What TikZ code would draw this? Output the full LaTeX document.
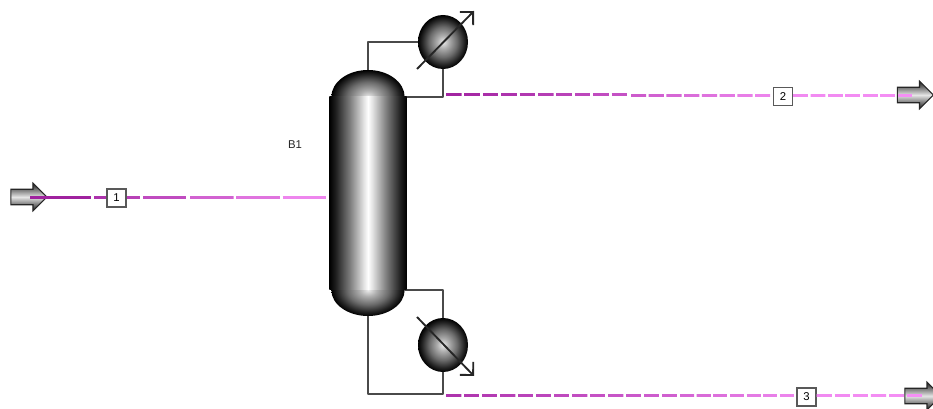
\documentclass[tikz,border=0pt]{standalone}
\usepackage{fontspec}
\setmainfont{Liberation Sans}
\usetikzlibrary{shapes.geometric,shapes.arrows,arrows.meta,calc}
\definecolor{pdark}{HTML}{A0229F}
\definecolor{plight}{HTML}{F58FF5}
\definecolor{pipe}{HTML}{4A4A4A}
\pgfdeclareradialshading{hxball}{\pgfpoint{0bp}{0bp}}{color(0bp)=(white!92!black); color(6bp)=(black!32); color(14bp)=(black!58); color(21bp)=(black!86); color(25bp)=(black); color(100bp)=(black)}
\pgfdeclarehorizontalshading{hxcol}{100bp}{color(0bp)=(black); color(25bp)=(black); color(29bp)=(black!88); color(38bp)=(black!52); color(47bp)=(white!88!black); color(50bp)=(white); color(53bp)=(white!88!black); color(62bp)=(black!52); color(71bp)=(black!88); color(75bp)=(black); color(100bp)=(black)}
\tikzset{
  x=0.75pt,y=-0.75pt,
  pipeline/.style={draw=pipe,line width=1.5pt,line join=round},
  ball/.style={ellipse,inner sep=0pt,minimum width=37.5pt,minimum height=40.5pt,shade,shading=hxball},
  cross/.style={draw=black!85,line width=1.4pt,-{Straight Barb[length=7pt,width=14pt,line width=1.4pt]}},
  port/.style={single arrow,inner sep=0pt,draw=black!85,line width=.8pt,minimum height=27pt,text height=5.4pt,text depth=5.4pt,text width=0pt,single arrow head extend=4.6pt,
    shade,top color=black!90,bottom color=black!90,middle color=white!90!black},
  tag/.style={draw=black!65,fill=white,line width=.9pt,inner sep=0pt,minimum width=14.25pt,minimum height=13.5pt,font=\fontsize{8.5}{9}\selectfont},
  streamline/.style={line width=2pt},
}
% from, to, number of dashes, dash fraction, start and end percent of dark colour
\newcommand\hxdashes[6]{%
  \foreach \i in {1,...,#3}{%
    \pgfmathsetmacro\hxmix{#5+(#6-#5)*(\i-.5)/#3}%
    \pgfmathsetmacro\hxfa{(\i-1)/#3}%
    \pgfmathsetmacro\hxfb{(\i-1+#4)/#3}%
    \draw[streamline,draw=pdark!\hxmix!plight] ($(#1)!\hxfa!(#2)$) -- ($(#1)!\hxfb!(#2)$);
  }}
\begin{document}
\begin{tikzpicture}
\useasboundingbox (0,0) rectangle (933,409);
% ports
\node[port] (p1) at (25,197) {};
\node[port] (p2) at (911.5,95) {};
\node[port] (p3) at (919,396) {};
% connection points
\coordinate (coltop) at (368,72);
\coordinate (colbot) at (368,314);
\coordinate (colin) at (329,197.5);
\coordinate (colR1) at (405,97);
\coordinate (colR2) at (405,290);
% heat exchangers
\node[ball] (cond) at (443,42) {};
\node[ball] (reb) at (443,345) {};
% pipes
\draw[pipeline] (coltop) -- (368,42) -- (cond.west);
\coordinate (j2) at (443,97);
\draw[pipeline] (cond.south) -- (j2) -- (colR1);
\coordinate (j3) at (443,394);
\draw[pipeline] (colbot) -- (368,394) -- (j3) -- (reb.south);
\draw[pipeline] (colR2) -- (443,290) -- (reb.north);
% column
\begin{scope}
\clip (325,97) rectangle (412,60);
\node[ellipse,inner sep=0pt,minimum width=55pt,minimum height=40.5pt,shade,shading=hxball] (domeT) at (368,97) {};
\end{scope}
\begin{scope}
\clip (325,290) rectangle (412,325);
\node[ellipse,inner sep=0pt,minimum width=55pt,minimum height=39pt,shade,shading=hxball] (domeB) at (368,290) {};
\end{scope}
\node[rectangle,inner sep=0pt,minimum width=58pt,minimum height=144.75pt,shade,shading=hxcol] (col) at (368,193.5) {};
% exchanger arrows
\coordinate (a1) at (417,69); \coordinate (a2) at (474,11);
\coordinate (b1) at (417,317); \coordinate (b2) at (474,376);
\draw[cross] (a1) -- (a2);
\draw[cross] (b1) -- (b2);
% stream tags
\node[tag] (t1) at (116.5,198) {1};
\node[tag] (t2) at (783,96.5) {2};
\node[tag] (t3) at (806.5,397) {3};
% stream 1
\coordinate (s1a) at (30,197.5);
\coordinate (s1b) at (91,197.5);
\coordinate (s1c) at (94,197.5);
\coordinate (s1h) at (t1.west |- s1c);
\coordinate (s1i) at (t1.east |- s1c);
\coordinate (s1d) at (140,197.5);
\coordinate (s1e) at (143,197.5);
\coordinate (s1f) at (186,197.5);
\coordinate (s1g) at (190,197.5);
\hxdashes{s1a}{s1b}{1}{1}{100}{100}
\hxdashes{s1c}{s1h}{1}{1}{85}{85}
\hxdashes{s1i}{s1d}{1}{1}{72}{72}
\hxdashes{s1e}{s1f}{1}{1}{62}{62}
\hxdashes{s1g}{colin}{3}{.94}{50}{0}
% stream 2
\coordinate (s2a) at (446,94.5);
\coordinate (s2b) at (630,94.5);
\coordinate (s2c) at (631,95.5);
\coordinate (s2d) at (915,95.5);
\coordinate (s2e) at (t2.west |- s2c);
\coordinate (s2f) at (t2.east |- s2c);
\hxdashes{s2a}{s2b}{10}{.85}{100}{55}
\hxdashes{s2c}{s2e}{8}{.85}{50}{8}
\hxdashes{s2f}{s2d}{7}{.85}{5}{0}
% stream 3
\coordinate (s3a) at (446,395.5);
\coordinate (s3m) at (680,395.5);
\coordinate (s3d) at (925,395.5);
\coordinate (s3e) at (t3.west |- s3d);
\coordinate (s3f) at (t3.east |- s3d);
\hxdashes{s3a}{s3m}{13}{.85}{85}{42}
\hxdashes{s3m}{s3e}{7}{.85}{40}{8}
\hxdashes{s3f}{s3d}{6}{.85}{5}{0}
% label
\node[font=\fontsize{8.5}{9}\selectfont,inner sep=0pt,text=black!85] (lbl) at (295,145) {B1};
\end{tikzpicture}
\end{document}
